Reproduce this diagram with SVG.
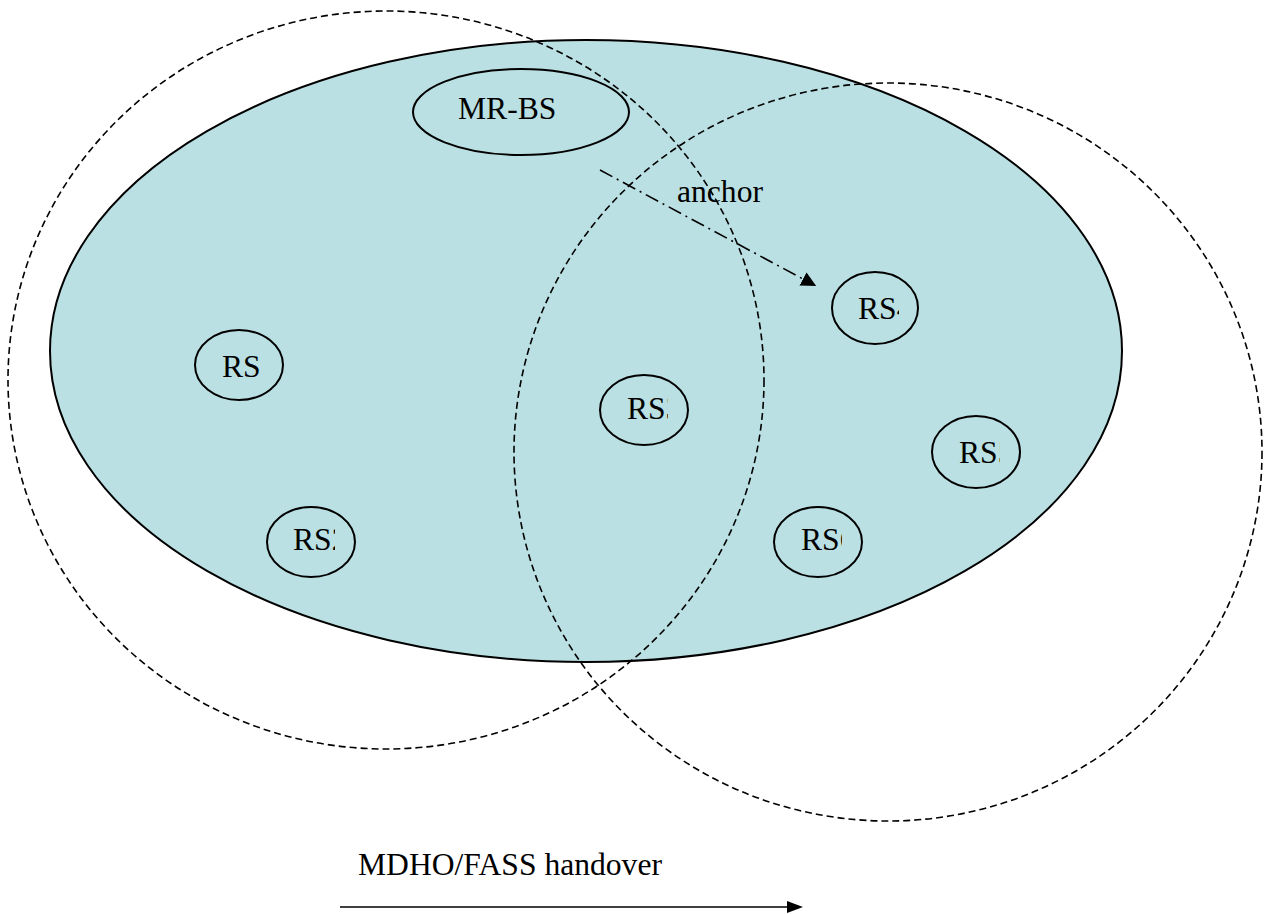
<svg xmlns="http://www.w3.org/2000/svg" width="1264" height="914" viewBox="0 0 1264 914">
  <defs>
    <style>
      .area { fill: #BAE0E3; stroke: #000; stroke-width: 2; }
      .node { fill: #BAE0E3; stroke: #000; stroke-width: 2; }
      .cov { fill: none; stroke: #000; stroke-width: 1.6; stroke-dasharray: 7 4; }
      .lbl { font-family: "Liberation Serif", "Times New Roman", serif; font-size: 31.6px; fill: #000; }
      .anchor { fill: none; stroke: #000; stroke-width: 1.6; stroke-dasharray: 14 5 2 5; }
      .solid { fill: none; stroke: #000; stroke-width: 1.6; }
    </style>
    <marker id="triA" viewBox="0 0 10 10" refX="0" refY="5" markerWidth="15" markerHeight="15" markerUnits="userSpaceOnUse" orient="auto">
      <path d="M0,0 L10,5 L0,10 z" fill="#000"/>
    </marker>
    <marker id="triB" viewBox="0 0 10 10" refX="0" refY="5" markerWidth="16" markerHeight="12" markerUnits="userSpaceOnUse" orient="auto" preserveAspectRatio="none">
      <path d="M0,0 L10,5 L0,10 z" fill="#000"/>
    </marker>
    <clipPath id="c1"><rect x="190" y="330" width="71" height="70"/></clipPath>
    <clipPath id="c2"><rect x="265" y="507" width="70" height="70"/></clipPath>
    <clipPath id="c3"><rect x="598" y="374" width="70" height="71"/></clipPath>
    <clipPath id="c4"><rect x="830" y="272" width="69" height="72"/></clipPath>
    <clipPath id="c5"><rect x="930" y="416" width="70" height="73"/></clipPath>
    <clipPath id="c6"><rect x="772" y="507" width="70" height="70"/></clipPath>
  </defs>

  <g id="mr-bs-area">
    <ellipse class="area" cx="586" cy="351" rx="536" ry="311"/>
  </g>

  <g id="mr-bs">
    <ellipse class="node" cx="521" cy="112" rx="108" ry="43"/>
    <text class="lbl" x="458" y="119">MR-BS</text>
  </g>

  <g id="rs1">
    <ellipse class="node" cx="239" cy="365" rx="44" ry="35"/>
    <text class="lbl" x="222" y="377" clip-path="url(#c1)">RS1</text>
  </g>
  <g id="rs2">
    <ellipse class="node" cx="311" cy="542" rx="44" ry="35"/>
    <text class="lbl" x="293" y="550" clip-path="url(#c2)">RS2</text>
  </g>
  <g id="rs3">
    <ellipse class="node" cx="644" cy="410" rx="44" ry="35"/>
    <text class="lbl" x="627" y="419" clip-path="url(#c3)">RS3</text>
  </g>
  <g id="rs4">
    <ellipse class="node" cx="875" cy="308" rx="43" ry="36"/>
    <text class="lbl" x="858" y="319" clip-path="url(#c4)">RS4</text>
  </g>
  <g id="rs5">
    <ellipse class="node" cx="976" cy="452" rx="44" ry="36"/>
    <text class="lbl" x="959" y="463" clip-path="url(#c5)">RS5</text>
  </g>
  <g id="rs6">
    <ellipse class="node" cx="818" cy="542" rx="44" ry="35"/>
    <text class="lbl" x="801" y="550" clip-path="url(#c6)">RS6</text>
  </g>

  <g id="coverage-left">
    <ellipse class="cov" cx="386" cy="380" rx="378" ry="369"/>
  </g>
  <g id="coverage-right">
    <ellipse class="cov" cx="888" cy="452" rx="374" ry="369"/>
  </g>

  <g id="connectors">
    <line class="anchor" x1="600" y1="170" x2="803" y2="279" marker-end="url(#triA)"/>
    <text class="lbl" x="677" y="202">anchor</text>
    <line class="solid" x1="340" y1="907" x2="787" y2="907" marker-end="url(#triB)"/>
    <text class="lbl" x="358" y="875">MDHO/FASS handover</text>
  </g>
</svg>
